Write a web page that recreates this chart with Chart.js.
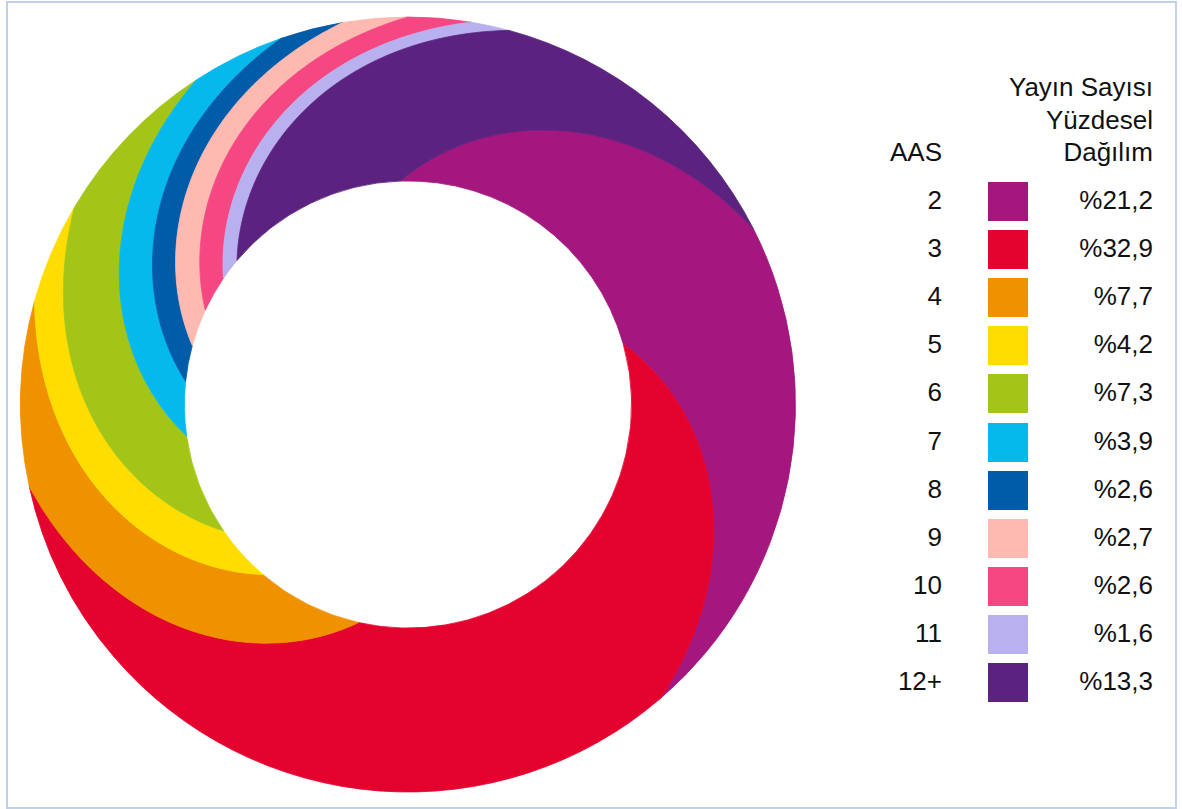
<!DOCTYPE html>
<html>
<head>
<meta charset="utf-8">
<script src="https://cdn.jsdelivr.net/npm/chart.js@4"></script>
<style>
  body { margin: 0; background: #fff; }
  #wrap { position: relative; width: 1182px; height: 809px; overflow: hidden; font-family: "Liberation Sans", Arial, sans-serif; color: #111; }
  #frame { position: absolute; left: 6px; top: 1px; width: 1171px; height: 808px; box-sizing: border-box; border: 2px solid #bfd2ea; }
  #chart { position: absolute; left: 0; top: 0; }
  .txt { position: absolute; font-size: 26px; line-height: 30px; white-space: nowrap; }
  .r1 { right: 240px; text-align: right; }
  .r2 { right: 29px; text-align: right; }
  .box { position: absolute; left: 988px; width: 40px; height: 39px; }
</style>
</head>
<body>
<div id="wrap">
  <div id="frame"></div>
  <canvas id="chart" width="816" height="809"></canvas>
  <div id="legend"></div>
</div>
<script>
// AAS groups and their share of publications (%)
const aasLabels = ['2', '3', '4', '5', '6', '7', '8', '9', '10', '11', '12+'];
const shares = [21.2, 32.9, 7.7, 4.2, 7.3, 3.9, 2.6, 2.7, 2.6, 1.6, 13.3];
const colors = ['#a3177e', '#e4032e', '#f09100', '#ffdd00', '#a3c517', '#05b9ec',
                '#005ca9', '#feb9b0', '#f54782', '#b9b1ef', '#5c2280'];
const headerLines = ['Yayın Sayısı', 'Yüzdesel', 'Dağılım'];

// how far each boundary curls back (counter clockwise) on its way inwards
const SWIRL = 65 * Math.PI / 180;

// draw every arc as a curled band instead of a plain wedge
const swirlPlugin = {
  id: 'swirl',
  beforeDatasetsDraw(chart) {
    const ctx = chart.ctx;
    const meta = chart.getDatasetMeta(0);
    meta.data.forEach((arc, i) => {
      const p = arc.getProps(['x', 'y', 'startAngle', 'endAngle', 'innerRadius', 'outerRadius']);
      const R = p.outerRadius, r = p.innerRadius;
      const pt = (b, t) => {
        const a = b - SWIRL * t;
        const g = t - 0.07 * Math.sin(Math.PI * t);
        const rad = R - (R - r) * g;
        return [p.x + rad * Math.cos(a), p.y + rad * Math.sin(a)];
      };
      const steps = 80;
      ctx.save();
      ctx.beginPath();
      ctx.arc(p.x, p.y, R, p.startAngle, p.endAngle);
      for (let k = 0; k <= steps; k++) {
        const q = pt(p.endAngle, k / steps);
        ctx.lineTo(q[0], q[1]);
      }
      ctx.arc(p.x, p.y, r, p.endAngle - SWIRL, p.startAngle - SWIRL, true);
      for (let k = steps; k >= 0; k--) {
        const q = pt(p.startAngle, k / steps);
        ctx.lineTo(q[0], q[1]);
      }
      ctx.closePath();
      ctx.fillStyle = colors[i];
      ctx.fill();
      ctx.strokeStyle = colors[i];
      ctx.lineWidth = 0.8;
      ctx.stroke();
      ctx.restore();
    });
    return false;
  }
};

new Chart(document.getElementById('chart'), {
  type: 'doughnut',
  data: {
    labels: aasLabels,
    datasets: [{
      data: shares,
      backgroundColor: colors,
      borderWidth: 0,
      offset: 0,
      hoverOffset: 0
    }]
  },
  options: {
    responsive: false,
    animation: false,
    rotation: 63,
    radius: 387.5,
    cutout: '57.7%',
    layout: { padding: 0 },
    events: [],
    plugins: {
      legend: { display: false },
      tooltip: { enabled: false }
    }
  },
  plugins: [swirlPlugin]
});

// legend table on the right
const legend = document.getElementById('legend');
let html = '';
headerLines.forEach((t, i) => {
  html += `<div class="txt r2" style="top:${72 + i * 32.5}px">${t}</div>`;
});
html += `<div class="txt r1" style="top:137px">AAS</div>`;
aasLabels.forEach((lab, i) => {
  const y = 182 + i * 48.1;
  html += `<div class="txt r1" style="top:${y + 3}px">${lab}</div>`;
  html += `<div class="box" style="top:${y}px;background:${colors[i]}"></div>`;
  html += `<div class="txt r2" style="top:${y + 3}px">%${shares[i].toFixed(1).replace('.', ',')}</div>`;
});
legend.innerHTML = html;
</script>
</body>
</html>
